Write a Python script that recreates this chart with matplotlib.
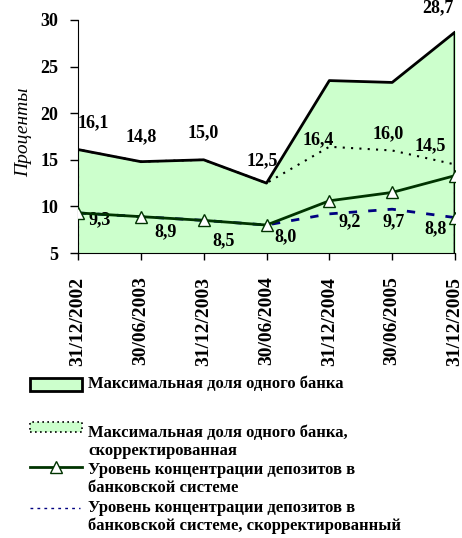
import matplotlib
matplotlib.use("Agg")
import matplotlib.pyplot as plt
import numpy as np
from matplotlib.patches import Rectangle
from matplotlib.lines import Line2D

# data
dates = ["31/12/2002", "30/06/2003", "31/12/2003", "30/06/2004",
         "31/12/2004", "30/06/2005", "31/12/2005"]
max_share = [16.1, 14.8, 15.0, 12.5, 23.5, 23.3, 28.7]
max_share_corr = [16.1, 14.8, 15.0, 12.5, 16.4, 16.0, 14.5]
conc = [9.3, 8.9, 8.5, 8.0, 10.6, 11.5, 13.3]
conc_corr = [9.3, 8.9, 8.5, 8.0, 9.2, 9.7, 8.8]

legend_labels = ["Максимальная доля одного банка",
                 "Максимальная доля одного банка,\nскорректированная",
                 "Уровень концентрации депозитов в\nбанковской системе",
                 "Уровень концентрации депозитов в\nбанковской системе, скорректированный"]

plt.rcParams["font.family"] = ["Liberation Serif", "DejaVu Serif"]
plt.rcParams["font.weight"] = "bold"

W, H = 462, 538
fig = plt.figure(figsize=(W / 100, H / 100), dpi=100)
ax = fig.add_axes([78 / W, 1 - 253 / H, (455 - 78) / W, (253 - 20) / H])

x = np.arange(len(dates))
fill_col = "#CCFFCC"
green = "#003300"
navy = "#000080"

ax.fill_between(x, 5, max_share, color=fill_col, zorder=1)
ax.plot(np.r_[x, x[-1]], np.r_[max_share, 5], color="black", lw=2, zorder=2)
ax.plot(np.r_[x[0], x, x[-1]], np.r_[5, max_share_corr, 5], color="black",
        lw=1.5, ls=(0, (1, 3)), zorder=3)
ax.plot(x, conc_corr, color=navy, lw=2, ls=(0, (3, 4)), zorder=4,
        marker="^", markevery=[6], ms=9, mfc="white", mec=green, mew=1)
ax.plot(x, conc, color=green, lw=2, zorder=5,
        marker="^", ms=9, mfc="white", mec=green, mew=1)

# data labels
up_off = [(15, 27), (0, 25), (-1, 27), (-4, 22), (-11, 7), (-4, 17), (-25, 19)]
for i, v in enumerate(max_share_corr):
    ax.annotate(f"{v:.1f}".replace(".", ","), (x[i], v), xytext=up_off[i],
                textcoords="offset pixels", ha="center", va="center",
                fontsize=13, fontweight="bold", annotation_clip=False)
ax.annotate(f"{max_share[-1]:.1f}".replace(".", ","), (x[-1], max_share[-1]),
            xytext=(-17, 24), textcoords="offset pixels", ha="center",
            va="center", fontsize=13, fontweight="bold", annotation_clip=False)
low_off = [(22, -7), (25, -15), (20, -20), (19, -12), (20, -8), (2, -13), (-19, -11)]
for i, v in enumerate(conc_corr):
    ax.annotate(f"{v:.1f}".replace(".", ","), (x[i], v), xytext=low_off[i],
                textcoords="offset pixels", ha="center", va="center",
                fontsize=13, fontweight="bold", annotation_clip=False)

ax.set_xlim(0, 6)
ax.set_ylim(5, 30)
ax.set_yticks([5, 10, 15, 20, 25, 30])
ax.set_xticks(x)
ax.set_xticklabels(dates, rotation=90, fontsize=14, fontweight="bold")
ax.tick_params(axis="y", labelsize=13, direction="out", length=6, width=1, pad=8)
ax.tick_params(axis="x", direction="out", length=5, width=1, pad=12)
for lab in ax.get_yticklabels():
    lab.set_fontweight("bold")
ax.spines["top"].set_visible(False)
ax.spines["right"].set_visible(False)
ax.set_ylabel("Проценты", fontsize=14, fontstyle="italic", fontweight="normal")
ax.yaxis.set_label_coords(-0.122, 0.52)

# legend drawn by hand
def fx(px):
    return px / W

def fy(py):
    return 1 - py / H

tf = fig.transFigure
fig.add_artist(Rectangle((fx(30), fy(391)), fx(52), 13 / H, transform=tf,
                         facecolor=fill_col, edgecolor="black", lw=2))
fig.add_artist(Rectangle((fx(30), fy(432)), fx(52), 10 / H, transform=tf,
                         facecolor=fill_col, edgecolor="black", lw=1.2,
                         ls=(0, (1, 2))))
fig.add_artist(Line2D([fx(30), fx(82)], [fy(467), fy(467)], transform=tf,
                      color=green, lw=2))
fig.add_artist(Line2D([fx(56)], [fy(467)], transform=tf, marker="^", ms=8,
                      mfc="white", mec=green, mew=1, ls="none"))
fig.add_artist(Line2D([fx(30), fx(80)], [fy(508), fy(508)], transform=tf,
                      color=navy, lw=1, ls=(0, (2, 3))))

text_y = [384, 442, 479, 517]
for lab, ty in zip(legend_labels, text_y):
    fig.text(fx(88), fy(ty), lab, fontsize=12, fontweight="bold",
             va="center", ha="left", linespacing=1.2)

fig.savefig("out.png", dpi=100)
